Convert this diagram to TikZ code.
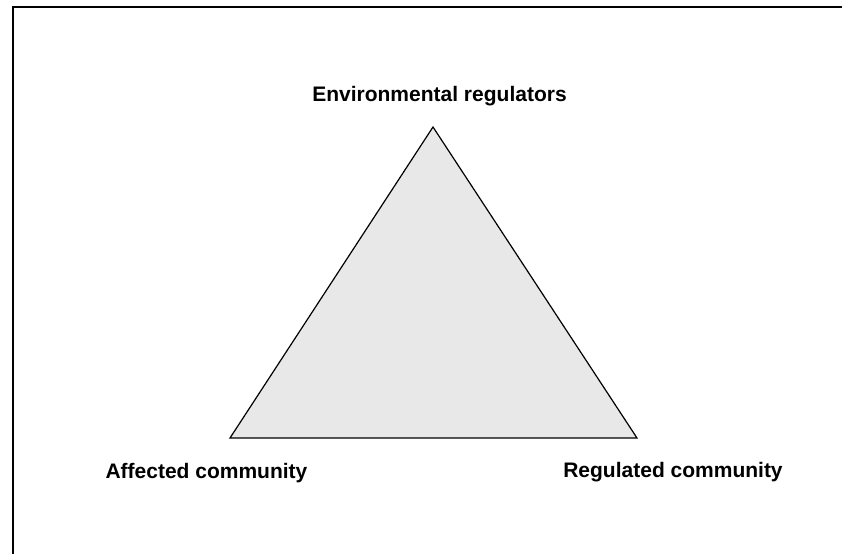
\documentclass[tikz,border=0pt]{standalone}
\usepackage{fontspec}
\setmainfont{Liberation Sans}
\usepackage{tikz}
\usetikzlibrary{positioning}

\begin{document}
\begin{tikzpicture}[x=1bp, y=-1bp, every node/.style={font=\bfseries\fontsize{21bp}{25bp}\selectfont},
  tri/.style={draw, line width=1.2bp, fill=black!9, line join=miter},
  lbl/.style={inner sep=0pt, anchor=base}]
  \clip (0,0) rectangle (842,554);
  % frame, only its top and left sides fall on the page
  \draw[line width=2.6bp] (13,600) -- (13,7) -- (900,7);
  \coordinate (top) at (433,127);
  \coordinate (lft) at (230,438);
  \coordinate (rgt) at (637,438);
  \draw[tri] (top) -- (rgt) -- (lft) -- cycle;
  \node[lbl] (env) at (439.5,101.5) {Environmental regulators};
  \node[lbl] (aff) at (206.5,478) {Affected community};
  \node[lbl] (reg) at (673,477.5) {Regulated community};
\end{tikzpicture}
\end{document}
